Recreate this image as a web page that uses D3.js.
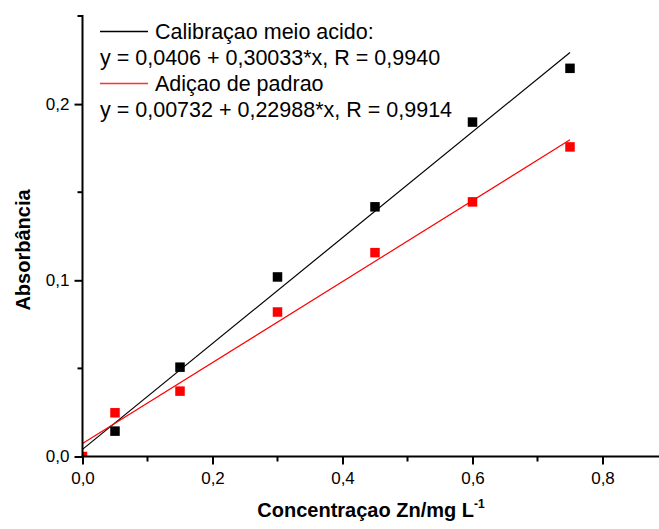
<!DOCTYPE html>
<html>
<head>
<meta charset="utf-8">
<script src="https://cdn.jsdelivr.net/npm/d3@7/dist/d3.min.js"></script>
<style>
  html, body { margin: 0; padding: 0; background: #fff; }
  svg { display: block; font-family: "Liberation Sans", Arial, Helvetica, sans-serif; }
</style>
</head>
<body>
<svg id="chart" width="659" height="529"></svg>
<script>
// Zn concentration (mg/L) and measured absorbance
const calibX = [0.05, 0.15, 0.30, 0.45, 0.60, 0.75];
const calibY = [0.0144, 0.0507, 0.1019, 0.1417, 0.1898, 0.2203];
const addX = [0.00, 0.05, 0.15, 0.30, 0.45, 0.60, 0.75];
const addY = [0.0000, 0.0248, 0.0371, 0.0820, 0.1157, 0.1445, 0.1757];

// linear fit parameters (intercept, slope) and fitted x-range
const fitIntercepts = [0.00406, 0.00732];
const fitSlopes = [0.30033, 0.22988];
const fitRange = [0, 0.75];

const seriesNames = ["Calibraçao meio acido:", "Adiçao de padrao"];
const fitLabels = ["y = 0,0406 + 0,30033*x, R = 0,9940", "y = 0,00732 + 0,22988*x, R = 0,9914"];
const seriesColors = ["#000000", "#ff0000"];

const xTicks = [0, 0.2, 0.4, 0.6, 0.8];
const xTickLabels = ["0,0", "0,2", "0,4", "0,6", "0,8"];
const xMinorTicks = [0.1, 0.3, 0.5, 0.7];
const yTicks = [0, 0.1, 0.2];
const yTickLabels = ["0,0", "0,1", "0,2"];
const yMinorTicks = [0.05, 0.15, 0.25];

const svg = d3.select("#chart");
const mLeft = 82.5, mBottom = 456.5, mTop = 16, mRight = 661;

const x = d3.scaleLinear().domain([0, (mRight - mLeft) / 650]).range([mLeft, mRight]);
const y = d3.scaleLinear().domain([0, 0.25]).range([mBottom, mTop]);

// clip marks to the plotting quadrant
svg.append("defs").append("clipPath").attr("id", "plotClip")
  .append("rect").attr("x", mLeft).attr("y", 0).attr("width", 659 - mLeft).attr("height", mBottom);

const plot = svg.append("g").attr("clip-path", "url(#plotClip)");

// fit lines
fitSlopes.forEach((b, i) => {
  const a = fitIntercepts[i];
  plot.append("line")
    .attr("x1", x(fitRange[0])).attr("y1", y(a + b * fitRange[0]))
    .attr("x2", x(fitRange[1])).attr("y2", y(a + b * fitRange[1]))
    .attr("stroke", seriesColors[i]).attr("stroke-width", 1.2);
});

// square markers
const sq = 9.5;
const drawSquares = (xs, ys, color) => {
  plot.selectAll(null).data(xs.map((v, i) => [v, ys[i]])).enter().append("rect")
    .attr("x", d => x(d[0]) - sq / 2).attr("y", d => y(d[1]) - sq / 2)
    .attr("width", sq).attr("height", sq).attr("fill", color);
};
drawSquares(calibX, calibY, seriesColors[0]);
drawSquares(addX, addY, seriesColors[1]);

// axes
const xAxis = svg.append("g").attr("transform", `translate(0,${mBottom})`)
  .call(d3.axisBottom(x).tickValues(xTicks).tickFormat((d, i) => xTickLabels[i])
    .tickSize(8).tickPadding(7).tickSizeOuter(0));
xAxis.append("g").selectAll("line").data(xMinorTicks).enter().append("line")
  .attr("x1", d => x(d)).attr("x2", d => x(d)).attr("y1", 0).attr("y2", 5)
  .attr("stroke", "#000").attr("stroke-width", 2);

const yAxis = svg.append("g").attr("transform", `translate(${mLeft},0)`)
  .call(d3.axisLeft(y).tickValues(yTicks).tickFormat((d, i) => yTickLabels[i])
    .tickSize(8).tickPadding(5).tickSizeOuter(0));
yAxis.append("g").selectAll("line").data(yMinorTicks).enter().append("line")
  .attr("y1", d => y(d)).attr("y2", d => y(d)).attr("x1", 0).attr("x2", -5)
  .attr("stroke", "#000").attr("stroke-width", 2);

[xAxis, yAxis].forEach(g => {
  g.select(".domain").attr("stroke", "#000").attr("stroke-width", 2);
  g.selectAll(".tick line").attr("stroke", "#000").attr("stroke-width", 2);
  g.selectAll(".tick text").attr("font-size", 17).attr("fill", "#000")
    .attr("font-family", "'Liberation Sans', Arial, sans-serif");
});
xAxis.select(".domain").attr("d", `M${mLeft - 1},0H${659}`);
yAxis.select(".domain").attr("d", `M0,${mTop - 1}V${mBottom + 1}`);

// axis titles
const xt = svg.append("text").attr("x", 371).attr("y", 517).attr("text-anchor", "middle")
  .attr("font-size", 20).attr("font-weight", "bold").attr("fill", "#000");
xt.append("tspan").text("Concentraçao Zn/mg L");
xt.append("tspan").attr("font-size", 12).attr("dy", -9).text("-1");

svg.append("text").attr("transform", "translate(30,250) rotate(-90)")
  .attr("text-anchor", "middle").attr("font-size", 20).attr("font-weight", "bold")
  .attr("fill", "#000").text("Absorbância");

// legend
const legend = svg.append("g").attr("font-size", 21.5).attr("fill", "#000");
seriesNames.forEach((name, i) => {
  const base = 39 + i * 52;
  legend.append("line").attr("x1", 100).attr("x2", 148)
    .attr("y1", base - 7.5).attr("y2", base - 7.5)
    .attr("stroke", i === 0 ? seriesColors[0] : "#ff3030").attr("stroke-width", 1.4);
  legend.append("text").attr("x", 155).attr("y", base).text(name);
  legend.append("text").attr("x", 100).attr("y", base + 26).text(fitLabels[i]);
});
</script>
</body>
</html>
